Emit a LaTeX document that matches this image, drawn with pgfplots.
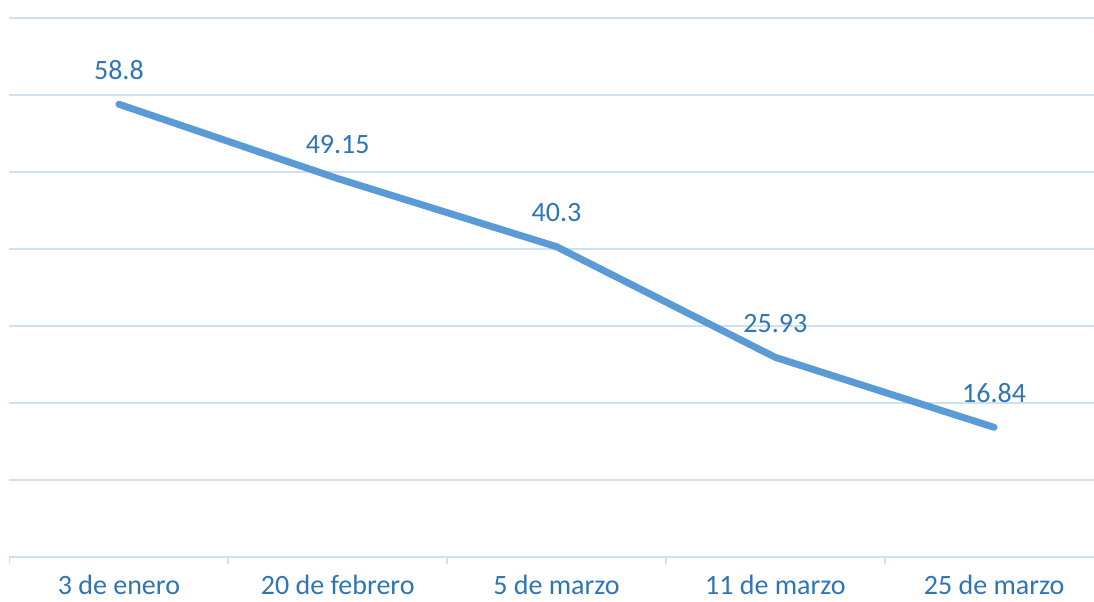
\documentclass[border=0pt]{standalone}
\usepackage{pgfplots}
\pgfplotsset{compat=1.18}
\usepackage{fontspec}
\setmainfont{Carlito}
\definecolor{linec}{HTML}{5B9BD5}
\definecolor{labc}{HTML}{2E75B6}
\definecolor{gridc}{HTML}{CFE0F1}
\begin{document}
\begin{tikzpicture}
\useasboundingbox (0,0) rectangle (547pt,300.5pt);
\begin{axis}[
  at={(4.75pt,22pt)}, anchor=south west,
  scale only axis, width=547pt, height=269.5pt,
  xmin=0.5, xmax=5.5, ymin=0, ymax=70,
  axis x line*=bottom, axis y line*=left,
  x axis line style={draw=gridc, line width=0.8pt, -},
  y axis line style={draw=none},
  ytick={10,20,30,40,50,60,70}, yticklabels={}, ymajorgrids,
  major grid style={draw=gridc, line width=0.7pt},
  major y tick style={draw=none},
  xtick={0.5,1.5,2.5,3.5,4.5,5.5}, xticklabels={},
  tick align=outside, major tick length=3.5pt,
  major x tick style={draw=gridc, line width=0.8pt},
  extra x ticks={1,2,3,4,5},
  extra x tick labels={3 de enero,20 de febrero,5 de marzo,11 de marzo,25 de marzo},
  extra x tick style={major tick length=0pt, xticklabel style={font=\fontsize{14}{17}\selectfont, text=labc, anchor=base, inner sep=0pt, yshift=-18.5pt}},
  clip=false,
  nodes near coords,
  point meta=explicit symbolic,
  every node near coord/.append style={font=\fontsize{14}{17}\selectfont, text=labc, anchor=base, yshift=12.5pt, xshift=0pt},
]
\addplot[color=linec, line width=3.5pt, line cap=round, line join=round, mark=none]
  table[meta=lab] {
x y lab
1 58.8 58.8
2 49.15 49.15
3 40.3 40.3
4 25.93 25.93
5 16.84 16.84
};
\end{axis}
\end{tikzpicture}
\end{document}
